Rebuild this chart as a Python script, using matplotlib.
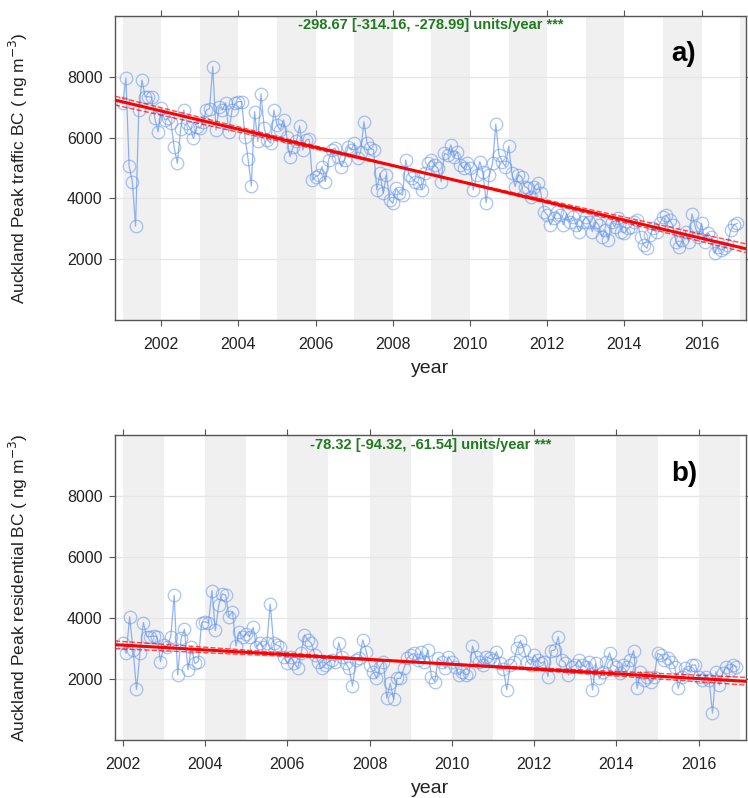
import numpy as np
import matplotlib
matplotlib.use('Agg')
import matplotlib.pyplot as plt

# Monthly mean BC (ng m-3), one row per year
traffic_start = 2001
traffic_bc = [
    7120, 7950, 5060, 4550, 3090, 6900, 7890, 7340, 7340, 7320, 6630, 6190,  # 2001
    6960, 6580, 6630, 6470, 5680, 5150, 6270, 6900, 6470, 6300, 5970, 6360,  # 2002
    6300, 6520, 6900, 6950, 8330, 6250, 7010, 6900, 7140, 6190, 6900, 7120,  # 2003
    7180, 7180, 6030, 5280, 4410, 6850, 5870, 7430, 6300, 5920, 5810, 6900,  # 2004
    6410, 6250, 6580, 6030, 5370, 5700, 5870, 6380, 5590, 5920, 5940, 4600,  # 2005
    4720, 4770, 5040, 4550, 5260, 5590, 5650, 5370, 5040, 5260, 5700, 5590,  # 2006
    5810, 5320, 5540, 6520, 5810, 5650, 5590, 4280, 4820, 4170, 4770, 3950,  # 2007
    3840, 4330, 4170, 4110, 5260, 4770, 4660, 4550, 4500, 4280, 4820, 5150,  # 2008
    5260, 5100, 4990, 4550, 5480, 5430, 5760, 5370, 5540, 5100, 4990, 5150,  # 2009
    4990, 4280, 4770, 5210, 4880, 3860, 4770, 5150, 6440, 5430, 5210, 5040,  # 2010
    5720, 4820, 4390, 4770, 4720, 4390, 4330, 4060, 4390, 4500, 4170, 3570,  # 2011
    3460, 3130, 3350, 3570, 3460, 3130, 3510, 3240, 3400, 3130, 2910, 3240,  # 2012
    3400, 3240, 2910, 3240, 3130, 2740, 2960, 2630, 3240, 3070, 3350, 2910,  # 2013
    2860, 3020, 3070, 3240, 3290, 2740, 2470, 2360, 2800, 3020, 2910, 3180,  # 2014
    3400, 3450, 3290, 3130, 2580, 2410, 2630, 2910, 2580, 3490, 3070, 2740,  # 2015
    3180, 2580, 2860, 2740, 2200, 2410, 2300, 2360, 2470, 2960, 3130, 3180,  # 2016
]

residential_start = 2002
residential_bc = [
    3170, 2840, 4040, 2950, 1660, 2840, 3850, 3390, 3390, 3410, 3390, 2570,  # 2002
    3110, 3060, 3390, 4750, 2130, 3330, 3630, 2300, 3060, 2510, 2570, 3850,  # 2003
    3880, 3830, 4900, 3590, 4430, 4790, 4750, 4040, 4210, 3080, 3550, 3390,  # 2004
    3480, 3390, 3690, 3060, 3170, 3060, 3170, 4460, 3170, 3110, 3060, 2730,  # 2005
    2510, 2730, 2540, 2350, 2840, 3440, 3280, 3170, 2790, 2570, 2350, 2460,  # 2006
    2570, 2620, 2570, 3190, 2730, 2510, 2350, 1770, 2620, 2680, 3280, 2900,  # 2007
    2460, 2240, 2020, 2400, 2570, 1370, 1860, 1340, 2020, 2020, 2350, 2680,  # 2008
    2790, 2840, 2620, 2900, 2570, 2950, 2080, 1910, 2680, 2570, 2350, 2730,  # 2009
    2570, 2400, 2130, 2240, 2130, 2190, 3080, 2730, 2570, 2460, 2730, 2680,  # 2010
    2620, 2900, 2540, 2320, 1640, 2460, 2570, 3010, 3260, 2950, 2570, 2460,  # 2011
    2790, 2620, 2510, 2570, 2080, 2930, 2950, 3390, 2620, 2540, 2130, 2400,  # 2012
    2460, 2620, 2460, 2400, 2570, 1640, 2510, 2020, 2240, 2570, 2860, 2460,  # 2013
    2400, 2190, 2460, 2400, 2620, 2930, 1690, 2240, 1970, 2080, 1910, 2080,  # 2014
    2840, 2790, 2620, 2680, 2570, 2400, 1690, 2080, 2350, 2240, 2460, 2460,  # 2015
    2080, 1970, 2080, 1970, 880, 2240, 1800, 2190, 2400, 2300, 2460, 2400,   # 2016
]

# Theil-Sen trends: slope and 95% CI (units/year), level at start of record
traffic_slope = [-298.67, -314.16, -278.99]
traffic_level = 7170
residential_slope = [-78.32, -94.32, -61.54]
residential_level = 3110

panels = [
    dict(vals=traffic_bc, start=traffic_start, slope=traffic_slope, level=traffic_level,
         ylabel=r'Auckland Peak traffic BC ( ng m$^{-3}$)', tag='a)', xlim=(2000.80, 2017.14)),
    dict(vals=residential_bc, start=residential_start, slope=residential_slope,
         level=residential_level,
         ylabel=r'Auckland Peak residential BC ( ng m$^{-3}$)', tag='b)', xlim=(2001.81, 2017.14)),
]
ax_boxes = [[0.1537, 0.5987, 0.8432, 0.3816], [0.1537, 0.0727, 0.8432, 0.3822]]

plt.rcParams['font.family'] = ['Liberation Sans', 'DejaVu Sans']
spine_col = '#555555'
blue = '#6495ED'

fig = plt.figure(figsize=(7.48, 7.98), dpi=100)

for p, box in zip(panels, ax_boxes):
    ax = fig.add_axes(box)
    vals = np.array(p['vals'], dtype=float)
    t = p['start'] + np.arange(len(vals)) / 12.0
    x0, x1 = p['xlim']

    # alternating year shading
    for yr in range(p['start'], 2018, 2):
        ax.axvspan(yr, yr + 1, color='#f0f0f0', lw=0, zorder=0)
    for gy in [2000, 4000, 6000, 8000, 10000]:
        ax.axhline(gy, color='#e6e6e6', lw=1, zorder=1)

    ax.plot(t, vals, '-', color=blue, lw=0.9, alpha=0.7, zorder=2)
    ax.plot(t, vals, 'o', ms=9, mfc='none', mec=blue, mew=0.9, alpha=0.55, zorder=3)

    # trend with CI lines pivoting around the centre of the record
    xs = np.array([x0, x1])
    tc = (t[0] + t[-1]) / 2
    mid = p['level'] + p['slope'][0] * (tc - p['start'])
    ax.plot(xs, p['level'] + p['slope'][0] * (xs - p['start']), color='red', lw=2.2, zorder=5)
    for s in p['slope'][1:]:
        ax.plot(xs, mid + s * (xs - tc), color='red', lw=1, ls='--', alpha=0.7, zorder=4)

    ax.set_xlim(x0, x1)
    ax.set_ylim(0, 10000)
    ax.set_yticks([2000, 4000, 6000, 8000])
    ax.set_xticks(range(2002, 2017, 2))
    ax.tick_params(direction='out', length=4, color=spine_col, top=True, right=True,
                   labelsize=11.5, labelcolor='#222222', pad=5)
    ax.tick_params(axis='x', pad=8)
    for sp in ax.spines.values():
        sp.set_color(spine_col)
        sp.set_linewidth(1)

    ax.set_ylabel(p['ylabel'], fontsize=12.5, color='#222222')
    ax.yaxis.set_label_coords(-0.135, 0.5)
    ax.set_xlabel('year', fontsize=14, color='#222222')
    ax.xaxis.label.set_va('center')
    ax.xaxis.set_label_coords(0.5, -0.158)

    txt = f"{p['slope'][0]:.2f} [{p['slope'][1]:.2f}, {p['slope'][2]:.2f}] units/year ***"
    ax.text(0.5, 0.968, txt, transform=ax.transAxes, ha='center', va='center',
            color='#1e7b1e', fontsize=10.5, fontweight='bold')
    ax.text(0.902, 0.873, p['tag'], transform=ax.transAxes, ha='center', va='center',
            fontsize=20, fontweight='bold', color='black')

fig.savefig('out.png', dpi=100)
